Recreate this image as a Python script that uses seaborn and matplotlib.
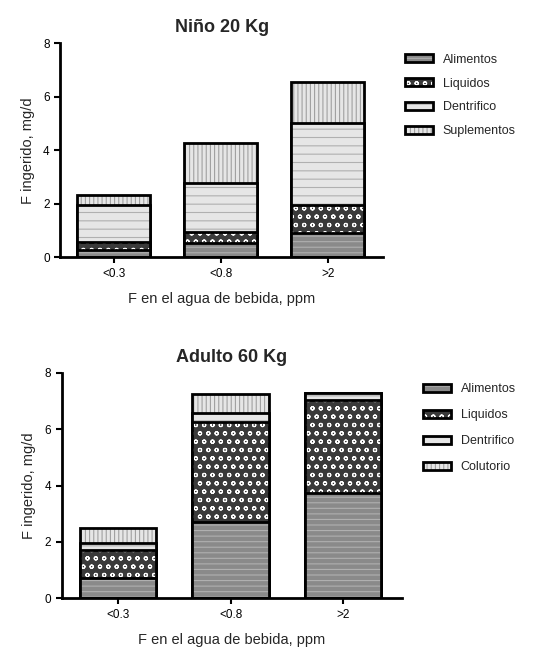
import matplotlib
matplotlib.use("Agg")
import matplotlib.pyplot as plt
import matplotlib.colors as mcolors
import seaborn as sns
import numpy as np
from matplotlib.patches import Patch

sns.set_theme(style="white")
plt.rcParams['font.family'] = ['Liberation Sans', 'DejaVu Sans']
plt.rcParams['hatch.linewidth'] = 0.8

categories = ["<0.3", "<0.8", ">2"]

# Niño 20 Kg
nino_alimentos = [0.28, 0.52, 0.90]
nino_liquidos = [0.28, 0.41, 1.04]
nino_dentrifico = [1.41, 1.84, 3.06]
nino_suplementos = [0.37, 1.49, 1.54]

# Adulto 60 Kg
adulto_alimentos = [0.71, 2.70, 3.74]
adulto_liquidos = [1.00, 3.56, 3.31]
adulto_dentrifico = [0.25, 0.32, 0.25]
adulto_colutorio = [0.53, 0.68, 0.00]

styles = [
    dict(face="#8a8a8a", hatch="---", hcol="#b0b0b0"),   # Alimentos
    dict(face="#3a3a3a", hatch="oo", hcol="#ffffff"),    # Liquidos
    dict(face="#e6e6e6", hatch="--", hcol="#b0b0b0"),    # Dentrifico
    dict(face="#e6e6e6", hatch="||||", hcol="#a0a0a0"),  # Suplementos / Colutorio
]


def style_patch(p, st):
    p.set_facecolor(st["face"])
    p.set_hatch(st["hatch"])
    p.set_edgecolor("black")
    p._hatch_color = mcolors.to_rgba(st["hcol"])


def stacked(ax, layers, names, title):
    cum = np.cumsum(np.array(layers), axis=0)
    for i in range(len(layers) - 1, -1, -1):
        n_before = len(ax.patches)
        sns.barplot(x=categories, y=cum[i], ax=ax, color=styles[i]["face"],
                    width=0.68, edgecolor="black", linewidth=2.0,
                    saturation=1, errorbar=None)
        for p in ax.patches[n_before:]:
            style_patch(p, styles[i])
    ax.set_ylim(0, 8)
    ax.set_xlim(-0.5, 2.52)
    ax.set_yticks([0, 2, 4, 6, 8])
    ax.set_title(title, fontsize=13, fontweight="bold", pad=8)
    ax.set_xlabel("F en el agua de bebida, ppm", fontsize=10.5, labelpad=9)
    ax.set_ylabel("F ingerido, mg/d", fontsize=10.5, labelpad=6)
    sns.despine(ax=ax)
    for s in ["left", "bottom"]:
        ax.spines[s].set_linewidth(2.0)
        ax.spines[s].set_color("black")
    ax.tick_params(axis="both", direction="out", length=4, width=1.5,
                   labelsize=8.5, colors="black", left=True, bottom=True)
    handles = []
    for i in range(len(names)):
        h = Patch(facecolor=styles[i]["face"], hatch=styles[i]["hatch"],
                  edgecolor="black", linewidth=2.0, label=names[i])
        h._hatch_color = mcolors.to_rgba(styles[i]["hcol"])
        handles.append(h)
    return handles


fig = plt.figure(figsize=(5.42, 6.53), dpi=100)
ax1 = fig.add_axes([0.111, 0.606, 0.596, 0.328])
ax2 = fig.add_axes([0.114, 0.084, 0.627, 0.345])

h1 = stacked(ax1, [nino_alimentos, nino_liquidos, nino_dentrifico, nino_suplementos],
             ["Alimentos", "Liquidos", "Dentrifico", "Suplementos"], "Niño 20 Kg")
h2 = stacked(ax2, [adulto_alimentos, adulto_liquidos, adulto_dentrifico, adulto_colutorio],
             ["Alimentos", "Liquidos", "Dentrifico", "Colutorio"], "Adulto 60 Kg")

fig.legend(handles=h1, loc="upper left", bbox_to_anchor=(0.727, 0.935),
           frameon=False, fontsize=9, handlelength=2.2, handleheight=0.6,
           labelspacing=0.95, handletextpad=0.8)
fig.legend(handles=h2, loc="upper left", bbox_to_anchor=(0.76, 0.43),
           frameon=False, fontsize=9, handlelength=2.2, handleheight=0.6,
           labelspacing=1.12, handletextpad=0.8)

fig.savefig("out.png", dpi=100)
